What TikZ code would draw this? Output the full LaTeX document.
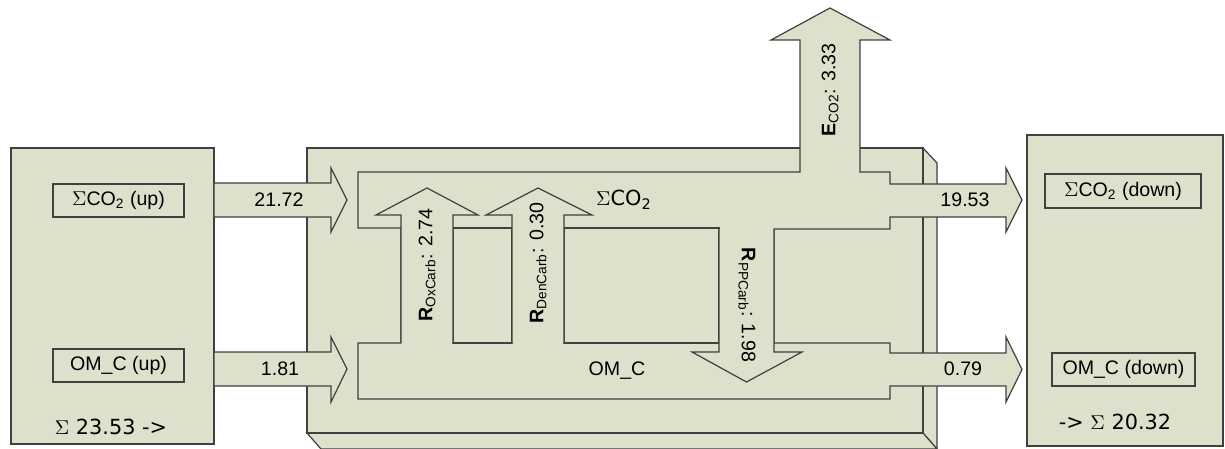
\documentclass[tikz,border=0pt]{standalone}
\usepackage{fontspec}
\setmainfont{Liberation Sans}
\newfontfamily\dvfont{DejaVu Sans}
\usetikzlibrary{positioning}
\definecolor{poolfill}{RGB}{221,224,203}
\definecolor{poolline}{RGB}{64,64,64}
\tikzset{
  flow/.style={fill=poolfill,draw=poolline,line width=0.6pt,line join=miter},
  edge/.style={draw=poolline,line width=0.6pt,line join=miter},
  tag/.style={draw=poolline,fill=poolfill,line width=0.6pt,inner sep=0pt,minimum height=16.5pt},
  sumtxt/.style={font=\dvfont\fontsize{10.4}{12}\selectfont}
}
\begin{document}
\begin{tikzpicture}[x=0.5pt,y=-0.5pt,font=\fontsize{9.8}{11.5}\selectfont]
  \useasboundingbox (0,0) rectangle (1225,449);
  % upstream and downstream pools
  \node[flow,minimum width=101.5pt,minimum height=148pt] (upper) at (112.5,296) {};
  \node[flow,minimum width=98pt,minimum height=155.5pt] (lower) at (1125,290.5) {};
  \node[tag,minimum width=65.5pt] (co2up) at (118.5,200.5) {$\Sigma$CO\textsubscript{2} (up)};
  \node[tag,minimum width=65.5pt] (omup) at (118.5,365.5) {OM\_C (up)};
  \node[tag,minimum width=78pt,minimum height=17pt] (co2dn) at (1123,191) {$\Sigma$CO\textsubscript{2} (down)};
  \node[tag,minimum width=71.5pt] (omdn) at (1123.5,369.5) {OM\_C (down)};
  \node[sumtxt] (sumup) at (111,427) {$\Sigma$ 23.53 ->};
  \node[sumtxt] (sumdn) at (1115,422) {-> $\Sigma$ 20.32};
  % central segment as a slab
  \draw[flow] (923,148) -- (937,163) -- (937,449) -- (923,433) -- cycle;
  \draw[flow] (307,433) -- (923,433) -- (937,449) -- (321,449) -- cycle;
  \draw[flow] (307,148) rectangle (923,433);
  % inflow arrows
  \draw[flow] (214,183) -- (331,183) -- (331,168) -- (347,200) -- (331,232) -- (331,217) -- (214,217) -- cycle;
  \draw[flow] (214,352) -- (331,352) -- (331,337) -- (347,369) -- (331,402) -- (331,386) -- (214,386) -- cycle;
  % channels, emission and outflow arrows
  \draw[flow] (358,172) -- (800,172) -- (800,40) -- (771,40) -- (830,8) -- (890,40) -- (860,40)
    -- (860,172) -- (890,172) -- (890,184) -- (1006,184) -- (1006,168) -- (1022,200) -- (1006,232)
    -- (1006,217) -- (890,217) -- (890,229) -- (774,229) -- (774,343) -- (890,343) -- (890,353)
    -- (1006,353) -- (1006,337) -- (1022,369.5) -- (1006,402) -- (1006,386) -- (890,386)
    -- (890,399) -- (358,399) -- (358,343) -- (401,343) -- (401,228) -- (358,228) -- cycle;
  \draw[flow] (453,228) rectangle (512,343);
  \draw[flow] (564,228) rectangle (719,343);
  % exchange arrows between the channels
  \foreach \l/\r/\hl/\hr in {401/453/376/478,512/564/486/592}{
    \fill[poolfill] (\l,343) -- (\l,215) -- (\hl,215) -- ({(\l+\r)/2},188) -- (\hr,215) -- (\r,215) -- (\r,343) -- cycle;
    \draw[edge] (\l,343) -- (\l,215) -- (\hl,215) -- ({(\l+\r)/2},188) -- (\hr,215) -- (\r,215) -- (\r,343);
  }
  \fill[poolfill] (719,229) -- (719,352) -- (692,352) -- (746.5,382) -- (802,352) -- (774,352) -- (774,229) -- cycle;
  \draw[edge] (719,229) -- (719,352) -- (692,352) -- (746.5,382) -- (802,352) -- (774,352) -- (774,229);
  % values
  \node (qco2in) at (279,200) {21.72};
  \node (qomin) at (280,369) {1.81};
  \node (qco2out) at (965,200) {19.53};
  \node (qomout) at (963,369) {0.79};
  \node[sumtxt] (chco2) at (624,200) {$\Sigma$CO\textsubscript{2}};
  \node (chom) at (617,371) {OM\_C};
  \node[rotate=90] (rox) at (427,265) {\textbf{R}\textsubscript{OxCarb}: 2.74};
  \node[rotate=90] (rden) at (538,263) {\textbf{R}\textsubscript{DenCarb}: 0.30};
  \node[rotate=90] (eco2) at (830,90) {\textbf{E}\textsubscript{CO2}: 3.33};
  \node[rotate=-90] (rpp) at (747,305) {\textbf{R}\textsubscript{PPCarb}: 1.98};
\end{tikzpicture}
\end{document}
